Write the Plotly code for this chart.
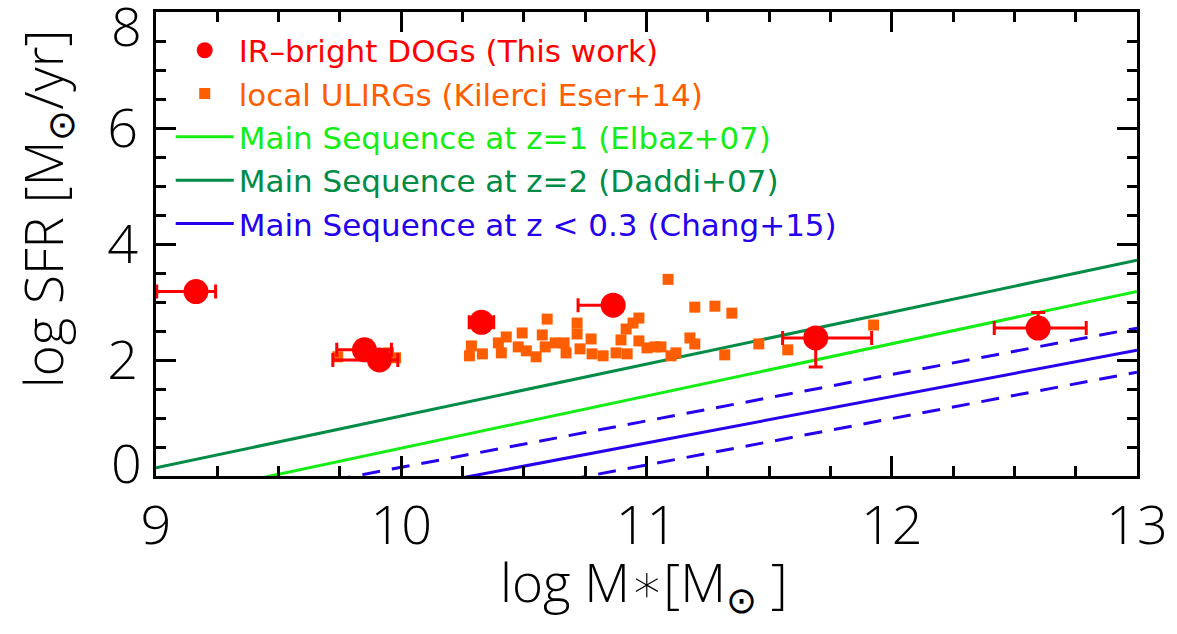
import plotly.graph_objects as go

# ---------------- data ----------------
# IR-bright DOGs (This work)
dog_x = [9.163, 9.850, 9.911, 10.327, 10.864, 11.690, 12.597]
dog_y = [3.18, 2.175, 2.00, 2.65, 2.945, 2.38, 2.55]
dog_xerr_plus = [0.08, 0.11, 0.075, 0.05, 0.0, 0.228, 0.196]
dog_xerr_minus = [0.16, 0.113, 0.19, 0.05, 0.143, 0.135, 0.179]
dog_yerr_plus = [0.0, 0.0, 0.0, 0.0, 0.0, 0.15, 0.27]
dog_yerr_minus = [0.0, 0.0, 0.0, 0.0, 0.0, 0.50, 0.15]

# local ULIRGs (Kilerci Eser+14)
ulirg_x = [10.286, 10.278, 10.331, 10.396, 10.428, 10.408, 10.493, 10.477, 10.510,
           10.550, 10.595, 10.575, 10.587, 10.628, 10.664, 10.672, 10.717, 10.717,
           10.729, 10.774, 10.778, 10.823, 10.876, 10.896, 10.917, 10.945, 10.969,
           10.921, 10.969, 11.002, 11.035, 11.059, 11.100, 11.120, 11.088, 11.197,
           11.279, 11.348, 11.177, 11.197, 11.319, 11.458, 11.576, 11.926, 9.741,
           9.948, 9.977]
ulirg_y = [2.243, 2.072, 2.106, 2.295, 2.397, 2.123, 2.466, 2.226, 2.158,
           2.055, 2.705, 2.432, 2.226, 2.295, 2.295, 2.123, 2.637, 2.449,
           2.192, 2.363, 2.106, 2.072, 2.123, 2.346, 2.534, 2.637, 2.723,
           2.106, 2.329, 2.209, 2.226, 2.226, 2.072, 2.123, 3.390, 2.911,
           2.928, 2.808, 2.380, 2.277, 2.089, 2.277, 2.175, 2.603, 2.055,
           2.123, 2.038]

# Main-sequence relations (values at the x-range ends)
ms_x = [9.0, 13.0]
elbaz_y = [-0.42, 3.18]
daddi_y = [0.14, 3.72]
chang_y = [-1.03, 2.17]
chang_hi_y = [-0.65, 2.55]
chang_lo_y = [-1.41, 1.79]

x_ticks = [9, 10, 11, 12, 13]
x_ticktext = ["9", "10", "11", "12", "13"]
y_ticks = [0, 2, 4, 6, 8]
y_ticktext = ["", "2", "4", "6", ""]
y_edge_labels = ["0", "8"]

RED = "#ff0000"
ORANGE = "#ff5e00"
LGREEN = "#14ee14"
DGREEN = "#008c46"
BLUE = "#2400ee"
FONT = "DejaVu Sans"
AXFONT = "Open Sans"

fig = go.Figure()

fig.add_trace(go.Scatter(x=ms_x, y=elbaz_y, mode="lines",
                         line=dict(color=LGREEN, width=3),
                         name=f'<span style="color:{LGREEN}">Main Sequence at z=1 (Elbaz+07)</span>',
                         legendrank=3))
fig.add_trace(go.Scatter(x=ms_x, y=daddi_y, mode="lines",
                         line=dict(color=DGREEN, width=3),
                         name=f'<span style="color:{DGREEN}">Main Sequence at z=2 (Daddi+07)</span>',
                         legendrank=4))
fig.add_trace(go.Scatter(x=ms_x, y=chang_y, mode="lines",
                         line=dict(color=BLUE, width=3),
                         name=f'<span style="color:{BLUE}">Main Sequence at z &lt; 0.3 (Chang+15)</span>',
                         legendrank=5))
fig.add_trace(go.Scatter(x=ms_x, y=chang_hi_y, mode="lines",
                         line=dict(color=BLUE, width=3, dash="18px,12px"),
                         showlegend=False))
fig.add_trace(go.Scatter(x=ms_x, y=chang_lo_y, mode="lines",
                         line=dict(color=BLUE, width=3, dash="18px,12px"),
                         showlegend=False))

fig.add_trace(go.Scatter(x=ulirg_x, y=ulirg_y, mode="markers",
                         marker=dict(symbol="square", size=11, color=ORANGE),
                         name=f'<span style="color:{ORANGE}">local ULIRGs (Kilerci Eser+14)</span>',
                         legendrank=2))

fig.add_trace(go.Scatter(x=dog_x, y=dog_y, mode="markers",
                         marker=dict(symbol="circle", size=25, color=RED),
                         error_x=dict(type="data", symmetric=False, array=dog_xerr_plus,
                                      arrayminus=dog_xerr_minus, color=RED,
                                      thickness=3, width=7),
                         error_y=dict(type="data", symmetric=False, array=dog_yerr_plus,
                                      arrayminus=dog_yerr_minus, color=RED,
                                      thickness=3, width=7),
                         name=f'<span style="color:{RED}">IR–bright DOGs (This work)</span>',
                         legendrank=1))

TICKFONT = dict(family=AXFONT, size=54, color="black", weight=300)
TITLEFONT = dict(family=AXFONT, size=53, color="black", weight=300)

axis_common = dict(
    showgrid=False, zeroline=False, showline=True, linecolor="black", linewidth=3,
    mirror="ticks", ticks="inside", ticklen=20, tickwidth=3, tickcolor="black",
    tickfont=TICKFONT, ticklabeloverflow="allow",
)

x_title = ('log M<span style="font-family:\'DejaVu Sans\';font-weight:200">∗</span>'
           '[M<sub>⊙</sub> ]')
y_title = "log SFR [M<sub>⊙</sub>/yr]"

annotations = [
    # y-axis edge labels (nudged inward as in the reference)
    dict(text=y_edge_labels[0], x=0, xref="paper", y=0, yref="y", xanchor="right",
         yanchor="middle", xshift=-12, yshift=14, showarrow=False, font=TICKFONT),
    dict(text=y_edge_labels[1], x=0, xref="paper", y=8, yref="y", xanchor="right",
         yanchor="middle", xshift=-12, yshift=-13, showarrow=False, font=TICKFONT),
    # axis titles
    dict(text=x_title, x=0.497, xref="paper", y=-0.234, yref="paper",
         xanchor="center", yanchor="middle", showarrow=False, font=TITLEFONT),
    dict(text=y_title, x=-0.113, xref="paper", y=0.575, yref="paper",
         xanchor="center", yanchor="middle", textangle=-90, showarrow=False,
         font=TITLEFONT),
]

fig.update_layout(
    width=1177, height=634,
    margin=dict(l=156, r=38, t=9, b=158),
    paper_bgcolor="white", plot_bgcolor="white",
    font=dict(family=FONT, color="black"),
    xaxis=dict(range=[9, 13], tickvals=x_ticks, ticktext=x_ticktext, ticklabelstandoff=0,
               minor=dict(dtick=0.25, ticks="inside", ticklen=10, tickwidth=3,
                          tickcolor="black", showgrid=False),
               **axis_common),
    yaxis=dict(range=[0, 8], tickvals=y_ticks, ticktext=y_ticktext, ticklabelstandoff=4,
               minor=dict(dtick=0.5, ticks="inside", ticklen=10, tickwidth=3,
                          tickcolor="black", showgrid=False),
               **axis_common),
    legend=dict(x=0.015, y=0.975, xanchor="left", yanchor="top",
                bgcolor="rgba(0,0,0,0)", font=dict(family=FONT, size=31),
                itemwidth=58, tracegroupgap=0),
    annotations=annotations,
    showlegend=True,
)

fig.write_html("out.html", config={"displayModeBar": False},
               post_script="document.body.style.margin='0';")
